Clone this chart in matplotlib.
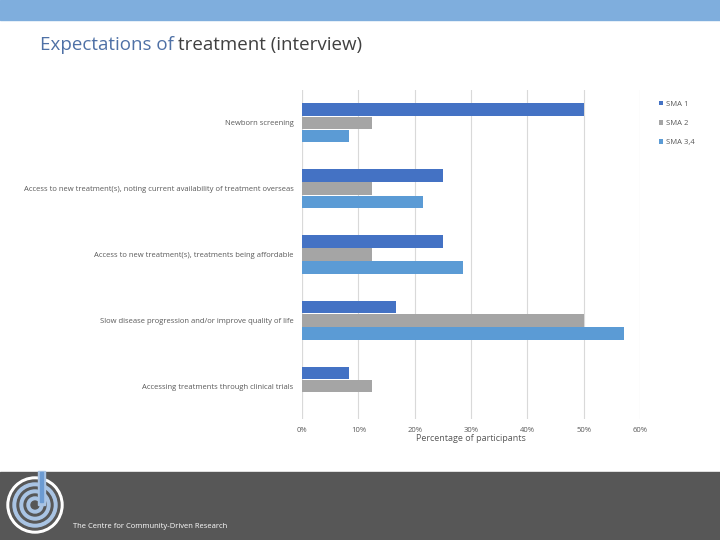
import numpy as np
import matplotlib.pyplot as plt
from matplotlib.patches import Rectangle, Circle

categories = ["Newborn screening",
              "Access to new treatment(s), noting current availability of treatment overseas",
              "Access to new treatment(s), treatments being affordable",
              "Slow disease progression and/or improve quality of life",
              "Accessing treatments through clinical trials"]
series_names = ["SMA 1", "SMA 2", "SMA 3,4"]
sma1 = [50.0, 25.0, 25.0, 16.7, 8.3]
sma2 = [12.5, 12.5, 12.5, 50.0, 12.5]
sma34 = [8.3, 21.4, 28.6, 57.1, 0.0]
xticks = [0, 10, 20, 30, 40, 50, 60]
colors = ["#4472C4", "#A5A5A5", "#5B9BD5"]

plt.rcParams['font.family'] = ['Open Sans', 'DejaVu Sans']

fig = plt.figure(figsize=(7.2, 5.4), dpi=100)

# background pieces drawn in a full-figure axes (pixel coords)
bg = fig.add_axes([0, 0, 1, 1], facecolor="none")
bg.set_xlim(0, 720)
bg.set_ylim(0, 540)
bg.axis("off")
bg.add_patch(Rectangle((0, 520), 720, 20, color="#7FAEDD"))
bg.add_patch(Rectangle((0, 0), 720, 68, color="#575757"))

# logo
px, py = 35, 540 - 505
bg.add_patch(Circle((px, py), 28, color="white"))
for r, c in [(25, "#575757"), (22, "#A9C4E4"), (18, "#575757"), (15, "#A9C4E4"),
             (11, "#575757"), (8, "#A9C4E4"), (4, "#575757")]:
    bg.add_patch(Circle((px, py), r, color=c))
bg.add_patch(Rectangle((px + 3, py), 7, 34, color="#A9C4E4"))
bg.add_patch(Rectangle((px + 5, py + 3), 3, 30, color="#6C9BD2"))
bg.text(73, 540 - 526, "The Centre for Community-Driven Research", color="white",
        fontsize=5.5, va="center", ha="left")

# title in two colours
t1 = fig.text(40/720, 1 - 45/540, "Expectations of", color="#4F71A6", fontsize=13.5,
              va="center", ha="left")
fig.canvas.draw()
bb = t1.get_window_extent()
fig.text(bb.x1/720 + 4/720, 1 - 45/540, "treatment (interview)", color="#404040",
         fontsize=13.5, va="center", ha="left")

ax = fig.add_axes([302/720, 1 - 419/540, 338/720, 329/540])
y = np.arange(len(categories))
h = 0.19
for i, (vals, name) in enumerate(zip([sma1, sma2, sma34], series_names)):
    ax.barh(y + (i - 1) * 0.2, vals, height=h, color=colors[i], label=name, zorder=3)

ax.set_xlim(0, 60)
ax.set_ylim(len(categories) - 0.5, -0.5)
ax.set_yticks(y)
ax.set_yticklabels(categories, fontsize=5.5, color="#595959")
ax.set_xticks(xticks)
ax.set_xticklabels([f"{v}%" for v in xticks], fontsize=5.5, color="#595959")
ax.tick_params(length=0, pad=6)
ax.tick_params(axis="x", pad=6)
ax.xaxis.grid(True, color="#D9D9D9", linewidth=0.8, zorder=0)
for s in ax.spines.values():
    s.set_visible(False)
ax.axvline(0, color="#D9D9D9", linewidth=0.8, zorder=1)
ax.set_xlabel("Percentage of participants", fontsize=6.5, color="#595959", labelpad=0)

ax.legend(loc="upper left", bbox_to_anchor=(652/720, 1 - 94/540),
          bbox_transform=fig.transFigure, frameon=False, fontsize=5.5,
          handlelength=0.5, handleheight=0.5, handletextpad=0.4, labelspacing=1.6,
          labelcolor="#595959")

fig.savefig("out.png", dpi=100)
